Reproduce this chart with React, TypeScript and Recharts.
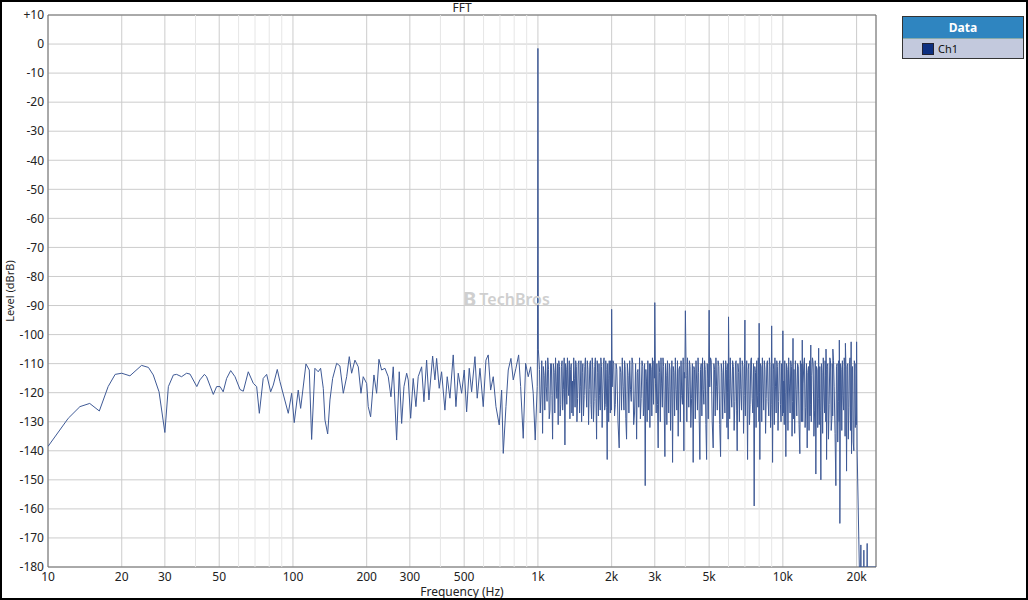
import React from "react";
import {
  LineChart, Line, XAxis, YAxis, CartesianGrid,
  ReferenceLine, ReferenceArea
} from "recharts";

const FONT = "'Noto Sans', 'Open Sans', sans-serif";

// Frequency axis (Hz, log) and level axis (dBrB)
const xTicks = [10, 20, 30, 50, 100, 200, 300, 500, 1000, 2000, 3000, 5000, 10000, 20000];
const xTickLabels = ["10", "20", "30", "50", "100", "200", "300", "500", "1k", "2k", "3k", "5k", "10k", "20k"];
const xMinorGrid = [40, 60, 70, 80, 90, 400, 600, 700, 800, 900, 4000, 6000, 7000, 8000, 9000];
const yTicks = [10, 0, -10, -20, -30, -40, -50, -60, -70, -80, -90, -100, -110, -120, -130, -140, -150, -160, -170, -180];

// [Hz, dB]
const lowBand = [
  [10, -138.5], [12.1, -128.8], [13.5, -124.8], [14.8, -123.7], [16.2, -126.3], [17.6, -117.9], [18.8, -113.7], [20, -113.3], [21.6, -114.2], [24.1, -110.6],
  [25.7, -111.3], [26.9, -113.9], [28.4, -119.7], [30, -133.7], [31, -117.9], [32.5, -113.9], [33.5, -113.7], [35.1, -114.5], [36.8, -113.3], [38, -113.6],
  [40.5, -117.9], [41.7, -115.6], [43.5, -113.7], [44.4, -114.5], [47.3, -120.6], [48.8, -117.9], [50.4, -117.9], [51.9, -119.7], [53.6, -115.1], [55.7, -112.4],
  [58, -114.5], [60.8, -118.9], [62.7, -119.5], [65.7, -112.8], [68.9, -116.8], [71.1, -117.9], [72.9, -127.1], [75.6, -115.1], [78.1, -113.7], [81.1, -119.7],
  [83.1, -117.4], [86.3, -112.0], [88.5, -116.2],
];

const midBand = [
  [95.7, -127.1], [98.8, -120.2], [101.2, -130.3], [105.1, -119.1], [107.5, -125.4], [113, -110.1], [116.6, -112.2], [119.2, -136.1], [122.9, -111.6], [126.8, -112.8],
  [129.7, -111.6], [133, -118.5], [135.1, -129.4], [138.6, -134.2], [141.6, -122.5], [145.2, -115.1], [150.8, -109.9], [155.5, -110.8], [160.5, -120.2], [165.7, -114.5],
  [169.8, -107.6], [173.6, -113.3], [179.1, -108.8], [184.8, -111.1], [189.5, -120.2], [193.6, -114.5], [199.9, -116.8], [202.9, -124.8], [207.5, -128.3], [214.1, -113.9],
  [219.6, -120.2], [224.4, -108.5], [230.1, -112.2], [237.4, -111.6], [244.9, -114.5], [251.2, -121.4], [256.7, -111.1], [265, -136.3], [271.6, -112.8], [277.8, -130.6],
  [283.9, -117.9], [291.2, -113.3], [295.6, -115.6], [302.3, -128.8], [309.7, -115.1], [317.7, -124.8], [324.6, -114.5], [335.2, -111.1], [342.5, -123.1], [351.3, -108.8],
  [359, -122.5], [371.7, -107.4], [379.8, -115.6], [385.9, -108.2], [395.4, -118.5], [404.4, -112.8], [417.2, -126], [426.3, -114.5], [437.3, -121.9], [451.1, -107],
  [462.7, -124.8], [472.8, -113.3], [488.2, -120.2], [500.3, -112.2], [511.7, -126.6], [524.4, -111.6], [536.3, -119.7], [553.3, -107.6], [565.3, -121.9], [580, -111.6],
  [598.2, -124.8], [613.6, -108.8], [626.9, -107], [641.2, -119.1], [657.1, -114.5], [674.1, -124.8], [695.2, -131.1], [711.1, -119.1], [722, -140.9], [740.5, -124.8],
  [756.7, -112.2], [776.1, -108.2], [793, -115.6], [813.4, -111.6], [834.2, -107], [850.1, -117.9], [871.1, -135.7], [891, -109.9], [913, -114.5], [933.8, -111.1],
  [956.9, -120.2], [975, -136.3], [993.4, -117.9],
];

const tone = [[996, -105], [1000, -1.5], [1004, -105]];

const harmonics = [
  [2000, -91.3], [3000, -89], [4000, -91.8], [5000, -91.6], [6000, -93.9], [7000, -95], [8000, -96.1], [9000, -97], [10000, -98.7], [11000, -101.3],
  [12000, -101.9], [13000, -103.6], [14000, -104.7], [15000, -105], [16000, -105], [17000, -101.9], [18000, -103], [19000, -102.5], [20000, -102.5],
];

const noise1k2k = [
  [1015, -112], [1030, -120], [1045, -134], [1060, -114], [1075, -109], [1090, -123], [1105, -112], [1120, -126], [1135, -110], [1148, -136],
  [1165, -113], [1180, -108], [1195, -122], [1210, -131], [1225, -111], [1240, -124], [1255, -109], [1270, -119], [1289, -138], [1305, -112],
  [1320, -108], [1335, -121], [1351, -129], [1368, -110], [1385, -116], [1400, -108], [1418, -125], [1435, -111], [1452, -122], [1470, -109],
  [1490, -118], [1508, -130], [1526, -110], [1545, -121], [1563, -108], [1582, -125], [1600, -112], [1620, -119], [1638, -109], [1657, -129],
  [1676, -112], [1696, -123], [1716, -108], [1736, -136], [1756, -113], [1776, -110], [1797, -126], [1818, -111], [1840, -120], [1862, -108],
  [1884, -124], [1900, -112], [1918, -143], [1936, -115], [1955, -109], [1975, -127], [1990, -117],
];
const fill1k2k = [
  [1022, -127], [1037, -109], [1052, -111], [1067, -126], [1082, -118], [1097, -108], [1112, -129], [1127, -110], [1141, -121], [1156, -110],
  [1172, -127], [1187, -116], [1202, -110], [1217, -109], [1232, -128], [1247, -111], [1262, -126], [1280, -108], [1297, -110], [1312, -124],
  [1327, -117], [1343, -109], [1360, -112], [1376, -127], [1392, -128], [1409, -115], [1426, -109], [1443, -130], [1461, -110], [1480, -127],
  [1499, -109], [1517, -113], [1535, -128], [1554, -111], [1572, -119], [1591, -109], [1610, -131], [1629, -110], [1647, -124], [1666, -108],
  [1686, -130], [1706, -111], [1726, -122], [1746, -109], [1766, -128], [1786, -121], [1807, -108], [1829, -132], [1851, -110], [1873, -126],
  [1892, -109], [1909, -125], [1927, -110], [1945, -130], [1965, -114], [1983, -109], [1995, -126],
];

const noise2k5k = [
  [2010, -118], [2040, -110], [2070, -124], [2100, -112], [2147, -139], [2180, -113], [2210, -108], [2245, -126], [2270, -111], [2301, -136],
  [2335, -114], [2370, -109], [2405, -123], [2440, -110], [2480, -127], [2529, -136], [2560, -112], [2600, -108], [2640, -122], [2680, -111],
  [2710, -125], [2742, -152], [2775, -116], [2810, -109], [2840, -120], [2865, -132], [2900, -112], [2935, -108], [2965, -124], [2990, -115],
  [3020, -117], [3060, -110], [3097, -139], [3140, -113], [3180, -108], [3220, -125], [3260, -111], [3299, -142], [3340, -114], [3380, -109],
  [3420, -127], [3460, -112], [3500, -120], [3546, -144], [3590, -113], [3640, -108], [3690, -126], [3738, -135], [3790, -111], [3840, -109],
  [3890, -124], [3944, -140], [3980, -115], [4030, -114], [4080, -108], [4130, -125], [4180, -111], [4240, -122], [4304, -144], [4360, -112],
  [4420, -109], [4480, -126], [4530, -113], [4584, -143], [4640, -110], [4700, -108], [4760, -124], [4820, -112], [4883, -143], [4940, -115],
  [4980, -110],
];
const fill2k5k = [
  [2025, -109], [2055, -128], [2085, -110], [2123, -130], [2163, -111], [2195, -126], [2228, -118], [2258, -109], [2285, -129], [2318, -110],
  [2352, -127], [2388, -119], [2422, -108], [2460, -131], [2505, -110], [2545, -113], [2580, -125], [2620, -129], [2660, -109], [2695, -128],
  [2726, -110], [2758, -112], [2792, -130], [2825, -126], [2852, -110], [2882, -110], [2918, -128], [2950, -117], [2978, -109], [3040, -127],
  [3078, -124], [3118, -109], [3160, -130], [3200, -117], [3240, -108], [3280, -127], [3320, -110], [3360, -131], [3400, -118], [3440, -110],
  [3480, -133], [3523, -109], [3568, -111], [3615, -128], [3665, -119], [3714, -109], [3764, -112], [3815, -130], [3865, -121], [3917, -108],
  [3962, -113], [4055, -130], [4105, -118], [4155, -109], [4210, -132], [4272, -110], [4332, -111], [4390, -129], [4450, -117], [4505, -108],
  [4557, -130], [4612, -112], [4670, -128], [4730, -119], [4790, -109], [4850, -131], [4912, -110], [4960, -129],
];

const noise5k10k = [
  [5030, -118], [5100, -109], [5194, -139], [5260, -112], [5330, -108], [5400, -126], [5480, -111], [5568, -142], [5640, -113], [5720, -109],
  [5800, -127], [5880, -112], [5940, -120], [5981, -136], [6030, -115], [6100, -108], [6190, -125], [6280, -111], [6370, -123], [6440, -109],
  [6509, -140], [6600, -113], [6690, -108], [6780, -126], [6870, -111], [6950, -121], [7060, -116], [7177, -143], [7260, -110], [7350, -124],
  [7440, -108], [7540, -127], [7636, -159], [7730, -113], [7820, -109], [7900, -125], [7970, -114], [8055, -143], [8150, -111], [8250, -108],
  [8350, -126], [8450, -112], [8550, -122], [8650, -109], [8760, -128], [8860, -111], [8960, -124], [9078, -144], [9180, -112], [9280, -108],
  [9390, -127], [9500, -111], [9610, -123], [9720, -109], [9830, -130], [9930, -113],
];
const fill5k10k = [
  [5065, -108], [5147, -130], [5227, -110], [5295, -128], [5365, -118], [5440, -109], [5524, -131], [5604, -110], [5680, -129], [5760, -120],
  [5840, -109], [5910, -132], [5960, -110], [6065, -129], [6145, -120], [6235, -109], [6325, -133], [6405, -110], [6475, -126], [6555, -110],
  [6645, -130], [6735, -119], [6825, -109], [6910, -134], [6975, -110], [7030, -128], [7120, -109], [7218, -112], [7305, -131], [7395, -109],
  [7490, -122], [7588, -110], [7683, -111], [7775, -132], [7860, -121], [7935, -108], [7985, -130], [8028, -120], [8100, -110], [8200, -130],
  [8300, -117], [8400, -109], [8500, -134], [8600, -110], [8705, -123], [8810, -108], [8910, -132], [8980, -110], [9040, -118], [9130, -110],
  [9230, -131], [9335, -118], [9445, -109], [9555, -133], [9665, -110], [9775, -124], [9880, -110], [9965, -128],
];

const noise10k20k = [
  [10080, -116], [10180, -109], [10285, -142], [10420, -112], [10560, -108], [10700, -127], [10840, -111], [10960, -123], [11100, -112], [11250, -109],
  [11400, -128], [11560, -111], [11731, -141], [11850, -113], [11950, -110], [12100, -117], [12250, -108], [12400, -125], [12570, -139], [12720, -111],
  [12860, -109], [12950, -124], [13120, -114], [13300, -110], [13480, -126], [13635, -148], [13800, -112], [13950, -122], [14150, -111], [14294, -150],
  [14450, -113], [14620, -108], [14800, -127], [14950, -114], [15082, -143], [15250, -110], [15450, -124], [15650, -109], [15850, -129], [15950, -112],
  [16200, -118], [16458, -152], [16650, -110], [16850, -123], [16950, -113], [17089, -165], [17300, -112], [17500, -109], [17700, -126], [17900, -111],
  [18197, -147], [18400, -110], [18600, -125], [18800, -108], [18950, -120], [19070, -141], [19250, -111], [19487, -140], [19650, -110], [19850, -127],
  [19950, -113], [20100, -140],
];
const fill10k20k = [
  [10040, -127], [10130, -131], [10232, -120], [10350, -110], [10490, -133], [10630, -117], [10770, -109], [10900, -135], [10980, -110], [11050, -129],
  [11175, -134], [11325, -119], [11480, -110], [11645, -131], [11790, -109], [11900, -130], [11975, -126], [12050, -130], [12175, -110], [12325, -132],
  [12485, -110], [12645, -113], [12790, -133], [12905, -128], [13060, -130], [13210, -108], [13390, -135], [13560, -109], [13715, -111], [13875, -132],
  [13975, -110], [14075, -131], [14220, -126], [14370, -110], [14535, -134], [14710, -120], [14875, -109], [14975, -130], [15040, -112], [15165, -111],
  [15350, -136], [15550, -108], [15750, -133], [15900, -110], [15975, -128], [16100, -109], [16330, -134], [16550, -111], [16750, -137], [16900, -109],
  [16975, -130], [17045, -118], [17200, -110], [17400, -133], [17600, -121], [17800, -108], [17950, -135], [18100, -112], [18300, -111], [18500, -136],
  [18700, -110], [18875, -133], [18975, -110], [19035, -126], [19160, -112], [19370, -137], [19570, -109], [19750, -132], [19900, -110], [19975, -131],
];

// steep anti-alias roll-off past 20 kHz
const rolloff = [
  [20520, -180], [20780, -180], [20815, -172.4], [20850, -180], [21380, -180], [21410, -174.2], [21440, -180],
  [22050, -180], [22086, -171.9], [22120, -180], [24000, -180],
];

const data = [
  ...lowBand, ...midBand, ...tone, ...harmonics,
  ...noise1k2k, ...fill1k2k, ...noise2k5k, ...fill2k5k,
  ...noise5k10k, ...fill5k10k, ...noise10k20k, ...fill10k20k, ...rolloff,
]
  .map(([f, db]) => ({ f, db }))
  .sort((a, b) => a.f - b.f);

const tickStyle = { fontSize: 12, fill: "#222", fontFamily: FONT };

export default function App() {
  return (
    <div style={{ position: "absolute", left: 0, top: 0, width: 1028, height: 600, background: "#fff", fontFamily: FONT, overflow: "hidden" }}>
      <LineChart width={1028} height={600} data={data} margin={{ top: 15, right: 152, bottom: 0, left: 0 }}>
        <CartesianGrid stroke="#cccccc" />
        {xMinorGrid.map(v => (
          <ReferenceLine key={v} x={v} stroke="#e6e6e6" strokeWidth={1} />
        ))}
        <XAxis
          dataKey="f" type="number" scale="log" domain={[10, 24000]} allowDataOverflow
          ticks={xTicks} interval={0}
          tickFormatter={(v: number) => xTickLabels[xTicks.indexOf(v)] ?? ""}
          height={33} axisLine={false} tickLine={false} tickSize={0} tickMargin={5}
          tick={tickStyle}
        />
        <YAxis
          type="number" domain={[-180, 10]} allowDataOverflow
          ticks={yTicks} interval={0}
          tickFormatter={(v: number) => (v > 0 ? `+${v}` : `${v}`)}
          width={48} axisLine={false} tickLine={false} tickSize={0} tickMargin={4}
          tick={tickStyle}
        />
        <ReferenceArea x1={10} x2={24000} y1={-180} y2={10} fill="none" stroke="#6e6e6e" strokeWidth={1} ifOverflow="visible" />
        <Line
          dataKey="db" type="linear" stroke="#3f5a96" strokeWidth={1}
          dot={false} activeDot={false} isAnimationActive={false}
        />
      </LineChart>

      {/* title */}
      <div style={{ position: "absolute", left: 412, top: 1, width: 100, textAlign: "center", fontSize: 12, lineHeight: "14px", color: "#222" }}>FFT</div>

      {/* axis titles */}
      <div style={{ position: "absolute", left: 412, top: 587, width: 100, textAlign: "center", fontSize: 12, lineHeight: "10px", color: "#222" }}>Frequency (Hz)</div>
      <div style={{ position: "absolute", left: -40, top: 284, width: 100, textAlign: "center", fontSize: 11, lineHeight: "14px", color: "#222", transform: "rotate(-90deg)" }}>Level (dBrB)</div>

      {/* watermark */}
      <div style={{ position: "absolute", left: 463, top: 289, display: "flex", alignItems: "center", gap: 3, color: "#cfcfcf", pointerEvents: "none" }}>
        <span style={{ fontSize: 20, fontWeight: 700, lineHeight: "20px" }}>B</span>
        <span style={{ fontSize: 16, lineHeight: "20px", fontWeight: 600 }}>TechBros</span>
      </div>

      {/* legend */}
      <div style={{ position: "absolute", left: 902, top: 16, width: 120, border: "1px solid #333", background: "#c3c9dd" }}>
        <div style={{ background: "#2f85c0", color: "#fff", fontWeight: 700, fontSize: 12, textAlign: "center", height: 21, lineHeight: "21px", borderBottom: "1px solid #8aa" }}>Data</div>
        <div style={{ display: "flex", alignItems: "center", height: 19, paddingLeft: 19 }}>
          <div style={{ width: 10, height: 10, background: "#0d2f80", border: "1px solid #223" }} />
          <span style={{ fontSize: 11, color: "#111", marginLeft: 4 }}>Ch1</span>
        </div>
      </div>

      {/* outer frame */}
      <div style={{ position: "absolute", left: 0, top: 0, width: 1028, height: 600, boxSizing: "border-box", border: "2px solid #000", pointerEvents: "none" }} />
    </div>
  );
}
